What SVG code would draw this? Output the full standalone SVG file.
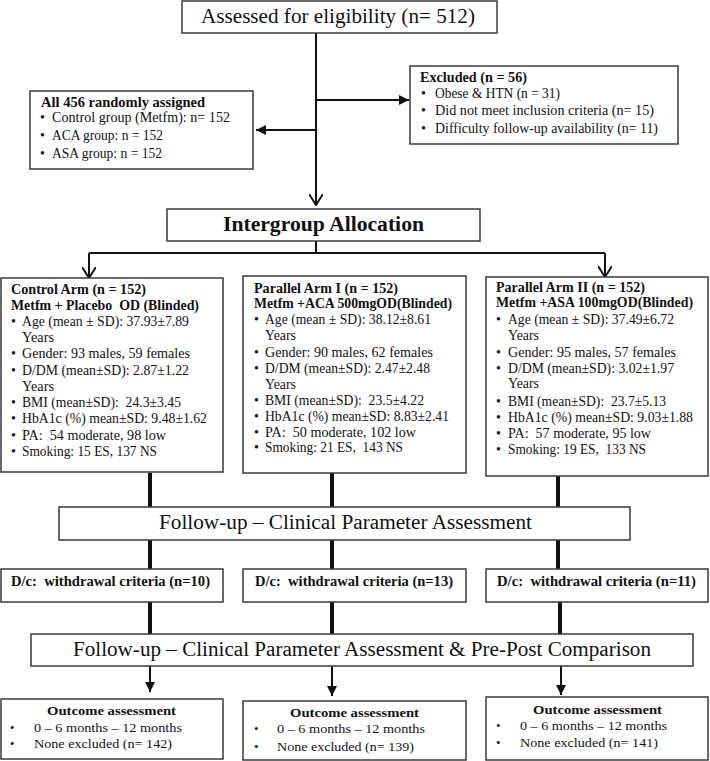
<svg xmlns="http://www.w3.org/2000/svg" width="710" height="761" viewBox="0 0 710 761">
<style>
.box{fill:#fff;stroke:#3a3a3a;stroke-width:1.5}
.t{font-family:"Liberation Serif","DejaVu Serif",serif;fill:#111;white-space:pre;font-size:14px}
.b{font-weight:bold}
.big{font-size:20px}
.sm{font-size:13px}
.ln{stroke:#111;stroke-width:2;fill:none}
.thick{stroke:#111;stroke-width:4;fill:none}
</style>
<defs>
<marker id="open" viewBox="0 0 12 14" refX="11" refY="7" markerWidth="12" markerHeight="14" markerUnits="userSpaceOnUse" orient="auto">
<path d="M0,0 L11,7 L0,14" fill="none" stroke="#111" stroke-width="2"/>
</marker>
<marker id="fill" viewBox="0 0 10 10" refX="10" refY="5" markerWidth="10" markerHeight="10" markerUnits="userSpaceOnUse" orient="auto">
<path d="M0,0 L10,5 L0,10 z" fill="#111"/>
</marker>
</defs>

<g id="connectors">
<path class="ln" d="M316,33 V205" marker-end="url(#open)"/>
<path class="ln" d="M316,100 H409" marker-end="url(#fill)"/>
<path class="ln" d="M316,130 H256" marker-end="url(#fill)"/>
<path class="ln" d="M316,241 V253"/>
<path class="ln" d="M89,253 H605"/>
<path class="ln" d="M89,253 V278" marker-end="url(#open)"/>
<path class="ln" d="M605,253 V277" marker-end="url(#open)"/>
<path class="thick" d="M150,473 V507 M332,473 V507 M558,476 V507"/>
<path class="thick" d="M150,540 V569 M332,540 V569 M558,540 V569"/>
<path class="thick" d="M150,602 V634 M332,602 V634 M560,602 V634"/>
<path class="ln" d="M150,666 V692" marker-end="url(#fill)"/>
<path class="ln" d="M332,666 V696" marker-end="url(#fill)"/>
<path class="ln" d="M561,666 V695" marker-end="url(#fill)"/>
</g>

<g id="assessed">
<rect class="box" x="182" y="1" width="315" height="32"/>
<text class="t big" x="201" y="23" textLength="274" lengthAdjust="spacingAndGlyphs">Assessed for eligibility (n= 512)</text>
</g>

<g id="excluded">
<rect class="box" x="410" y="66" width="268" height="78"/>
<text class="t b" x="420" y="82" textLength="107" lengthAdjust="spacingAndGlyphs">Excluded (n = 56)</text>
<text class="t" x="421" y="98">•</text>
<text class="t" x="421" y="115">•</text>
<text class="t" x="421" y="133">•</text>
<text class="t" x="435" y="98" textLength="125" lengthAdjust="spacingAndGlyphs">Obese &amp; HTN (n = 31)</text>
<text class="t" x="435" y="115" textLength="219" lengthAdjust="spacingAndGlyphs">Did not meet inclusion criteria (n= 15)</text>
<text class="t" x="435" y="133" textLength="223" lengthAdjust="spacingAndGlyphs">Difficulty follow-up availability (n= 11)</text>
</g>

<g id="randomized">
<rect class="box" x="30" y="91" width="223" height="78"/>
<text class="t b" x="41" y="107" textLength="164" lengthAdjust="spacingAndGlyphs">All 456 randomly assigned</text>
<text class="t" x="40" y="122">•</text>
<text class="t" x="40" y="140">•</text>
<text class="t" x="40" y="158">•</text>
<text class="t" x="52" y="122" textLength="178" lengthAdjust="spacingAndGlyphs">Control group (Metfm): n= 152</text>
<text class="t" x="52" y="140" textLength="111" lengthAdjust="spacingAndGlyphs">ACA group: n = 152</text>
<text class="t" x="52" y="158" textLength="110" lengthAdjust="spacingAndGlyphs">ASA group: n = 152</text>
</g>

<g id="intergroup">
<rect class="box" x="167" y="209" width="313" height="32"/>
<text class="t b big" x="223" y="231" textLength="201" lengthAdjust="spacingAndGlyphs">Intergroup Allocation</text>
</g>

<g id="control-arm">
<rect class="box" x="1" y="278" width="222" height="194"/>
<text class="t b" x="11" y="294" textLength="135" lengthAdjust="spacingAndGlyphs">Control Arm (n = 152)</text>
<text class="t b" x="11" y="310" textLength="188" lengthAdjust="spacingAndGlyphs">Metfm + Placebo  OD (Blinded)</text>
<text class="t" x="11" y="326">•</text>
<text class="t" x="11" y="358">•</text>
<text class="t" x="11" y="375">•</text>
<text class="t" x="11" y="407">•</text>
<text class="t" x="11" y="423">•</text>
<text class="t" x="11" y="440">•</text>
<text class="t" x="11" y="456">•</text>
<text class="t" x="22" y="326" textLength="167" lengthAdjust="spacingAndGlyphs">Age (mean ± SD): 37.93±7.89</text>
<text class="t" x="22" y="342" textLength="32" lengthAdjust="spacingAndGlyphs">Years</text>
<text class="t" x="22" y="358" textLength="168" lengthAdjust="spacingAndGlyphs">Gender: 93 males, 59 females</text>
<text class="t" x="22" y="375" textLength="167" lengthAdjust="spacingAndGlyphs">D/DM (mean±SD): 2.87±1.22</text>
<text class="t" x="22" y="391" textLength="32" lengthAdjust="spacingAndGlyphs">Years</text>
<text class="t" x="22" y="407" textLength="159" lengthAdjust="spacingAndGlyphs">BMI (mean±SD):  24.3±3.45</text>
<text class="t" x="22" y="423" textLength="185" lengthAdjust="spacingAndGlyphs">HbA1c (%) mean±SD: 9.48±1.62</text>
<text class="t" x="22" y="440" textLength="144" lengthAdjust="spacingAndGlyphs">PA:  54 moderate, 98 low</text>
<text class="t" x="22" y="456" textLength="135" lengthAdjust="spacingAndGlyphs">Smoking: 15 ES, 137 NS</text>
</g>

<g id="parallel-arm-1">
<rect class="box" x="243" y="276" width="223" height="197"/>
<text class="t b" x="254" y="293" textLength="144" lengthAdjust="spacingAndGlyphs">Parallel Arm I (n = 152)</text>
<text class="t b" x="254" y="308" textLength="198" lengthAdjust="spacingAndGlyphs">Metfm +ACA 500mgOD(Blinded)</text>
<text class="t" x="254" y="324">•</text>
<text class="t" x="254" y="357">•</text>
<text class="t" x="254" y="373">•</text>
<text class="t" x="254" y="405">•</text>
<text class="t" x="254" y="421">•</text>
<text class="t" x="254" y="437">•</text>
<text class="t" x="254" y="452">•</text>
<text class="t" x="265" y="324" textLength="166" lengthAdjust="spacingAndGlyphs">Age (mean ± SD): 38.12±8.61</text>
<text class="t" x="265" y="340" textLength="31" lengthAdjust="spacingAndGlyphs">Years</text>
<text class="t" x="265" y="357" textLength="168" lengthAdjust="spacingAndGlyphs">Gender: 90 males, 62 females</text>
<text class="t" x="265" y="373" textLength="165" lengthAdjust="spacingAndGlyphs">D/DM (mean±SD): 2.47±2.48</text>
<text class="t" x="265" y="389" textLength="31" lengthAdjust="spacingAndGlyphs">Years</text>
<text class="t" x="265" y="405" textLength="159" lengthAdjust="spacingAndGlyphs">BMI (mean±SD):  23.5±4.22</text>
<text class="t" x="265" y="421" textLength="184" lengthAdjust="spacingAndGlyphs">HbA1c (%) mean±SD: 8.83±2.41</text>
<text class="t" x="265" y="437" textLength="151" lengthAdjust="spacingAndGlyphs">PA:  50 moderate, 102 low</text>
<text class="t" x="265" y="452" textLength="138" lengthAdjust="spacingAndGlyphs">Smoking: 21 ES,  143 NS</text>
</g>

<g id="parallel-arm-2">
<rect class="box" x="486" y="277" width="222" height="199"/>
<text class="t b" x="496" y="292" textLength="149" lengthAdjust="spacingAndGlyphs">Parallel Arm II (n = 152)</text>
<text class="t b" x="496" y="307" textLength="197" lengthAdjust="spacingAndGlyphs">Metfm +ASA 100mgOD(Blinded)</text>
<text class="t" x="496" y="324">•</text>
<text class="t" x="496" y="357">•</text>
<text class="t" x="496" y="373">•</text>
<text class="t" x="496" y="406">•</text>
<text class="t" x="496" y="422">•</text>
<text class="t" x="496" y="438">•</text>
<text class="t" x="496" y="454">•</text>
<text class="t" x="508" y="324" textLength="166" lengthAdjust="spacingAndGlyphs">Age (mean ± SD): 37.49±6.72</text>
<text class="t" x="508" y="340" textLength="31" lengthAdjust="spacingAndGlyphs">Years</text>
<text class="t" x="508" y="357" textLength="168" lengthAdjust="spacingAndGlyphs">Gender: 95 males, 57 females</text>
<text class="t" x="508" y="373" textLength="166" lengthAdjust="spacingAndGlyphs">D/DM (mean±SD): 3.02±1.97</text>
<text class="t" x="508" y="388" textLength="31" lengthAdjust="spacingAndGlyphs">Years</text>
<text class="t" x="508" y="406" textLength="158" lengthAdjust="spacingAndGlyphs">BMI (mean±SD):  23.7±5.13</text>
<text class="t" x="508" y="422" textLength="185" lengthAdjust="spacingAndGlyphs">HbA1c (%) mean±SD: 9.03±1.88</text>
<text class="t" x="508" y="438" textLength="143" lengthAdjust="spacingAndGlyphs">PA:  57 moderate, 95 low</text>
<text class="t" x="508" y="454" textLength="138" lengthAdjust="spacingAndGlyphs">Smoking: 19 ES,  133 NS</text>
</g>

<g id="follow-up-1">
<rect class="box" x="59" y="507" width="571" height="33"/>
<text class="t big" x="159" y="529" textLength="373" lengthAdjust="spacingAndGlyphs">Follow-up – Clinical Parameter Assessment</text>
</g>

<g id="dc-control">
<rect class="box" x="1" y="569" width="222" height="33"/>
<text class="t b" x="11" y="586" textLength="199" lengthAdjust="spacingAndGlyphs">D/c:  withdrawal criteria (n=10)</text>
</g>
<g id="dc-arm1">
<rect class="box" x="243" y="569" width="223" height="33"/>
<text class="t b" x="255" y="586" textLength="198" lengthAdjust="spacingAndGlyphs">D/c:  withdrawal criteria (n=13)</text>
</g>
<g id="dc-arm2">
<rect class="box" x="486" y="569" width="222" height="33"/>
<text class="t b" x="497" y="586" textLength="199" lengthAdjust="spacingAndGlyphs">D/c:  withdrawal criteria (n=11)</text>
</g>

<g id="follow-up-2">
<rect class="box" x="31" y="634" width="662" height="32"/>
<text class="t big" x="73" y="656" textLength="578" lengthAdjust="spacingAndGlyphs">Follow-up – Clinical Parameter Assessment &amp; Pre-Post Comparison</text>
</g>

<g id="outcome-control">
<rect class="box" x="1" y="699" width="222" height="60"/>
<text class="t b sm" x="47" y="715" textLength="129" lengthAdjust="spacingAndGlyphs">Outcome assessment</text>
<text class="t sm" x="10" y="732">•</text>
<text class="t sm" x="10" y="748">•</text>
<text class="t sm" x="34" y="732" textLength="148" lengthAdjust="spacingAndGlyphs">0 – 6 months – 12 months</text>
<text class="t sm" x="34" y="748" textLength="138" lengthAdjust="spacingAndGlyphs">None excluded (n= 142)</text>
</g>
<g id="outcome-arm1">
<rect class="box" x="243" y="701" width="223" height="59"/>
<text class="t b sm" x="290" y="717" textLength="129" lengthAdjust="spacingAndGlyphs">Outcome assessment</text>
<text class="t sm" x="254" y="733">•</text>
<text class="t sm" x="254" y="751">•</text>
<text class="t sm" x="277" y="733" textLength="148" lengthAdjust="spacingAndGlyphs">0 – 6 months – 12 months</text>
<text class="t sm" x="277" y="751" textLength="137" lengthAdjust="spacingAndGlyphs">None excluded (n= 139)</text>
</g>
<g id="outcome-arm2">
<rect class="box" x="486" y="697" width="222" height="63"/>
<text class="t b sm" x="533" y="714" textLength="129" lengthAdjust="spacingAndGlyphs">Outcome assessment</text>
<text class="t sm" x="496" y="730">•</text>
<text class="t sm" x="496" y="747">•</text>
<text class="t sm" x="520" y="730" textLength="147" lengthAdjust="spacingAndGlyphs">0 – 6 months – 12 months</text>
<text class="t sm" x="520" y="747" textLength="138" lengthAdjust="spacingAndGlyphs">None excluded (n= 141)</text>
</g>
</svg>
